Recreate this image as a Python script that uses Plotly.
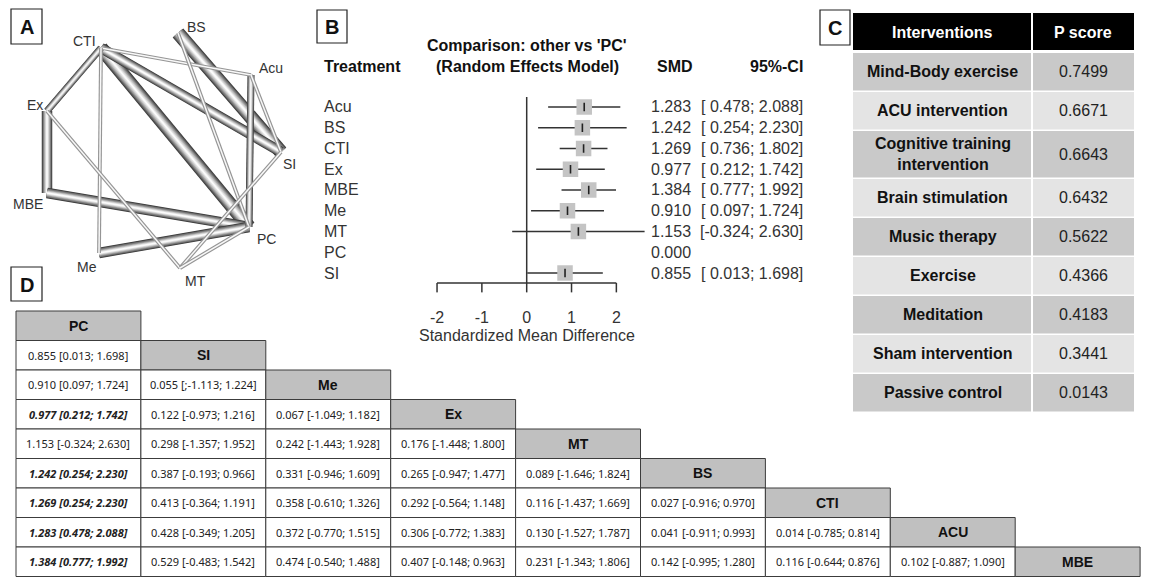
import plotly.graph_objects as go

# ======================= DATA =======================
# Panel A - network of comparisons (edge weight = number of direct studies, estimated)
net_nodes = ["BS", "CTI", "Acu", "Ex", "SI", "MBE", "PC", "Me", "MT"]
net_edge_from = ["BS", "CTI", "CTI", "Ex", "MBE", "Me", "Ex", "Acu", "CTI", "CTI", "BS", "Acu", "SI", "Ex", "MT"]
net_edge_to = ["SI", "PC", "SI", "MBE", "PC", "PC", "CTI", "PC", "Acu", "Me", "PC", "SI", "MT", "MT", "PC"]
net_edge_studies = [4, 4, 3, 3, 3, 3, 2, 2, 1, 1, 1, 1, 1, 1, 1]

# Panel B - forest plot, other vs 'PC'
forest_treat = ["Acu", "BS", "CTI", "Ex", "MBE", "Me", "MT", "PC", "SI"]
forest_smd = [1.283, 1.242, 1.269, 0.977, 1.384, 0.910, 1.153, 0.000, 0.855]
forest_low = [0.478, 0.254, 0.736, 0.212, 0.777, 0.097, -0.324, None, 0.013]
forest_high = [2.088, 2.230, 1.802, 1.742, 1.992, 1.724, 2.630, None, 1.698]
forest_ticks = [-2, -1, 0, 1, 2]

# Panel C - P scores
pscore_names = ["Mind-Body exercise", "ACU intervention", "Cognitive training<br>intervention",
                "Brain stimulation", "Music therapy", "Exercise", "Meditation",
                "Sham intervention", "Passive control"]
pscore_vals = [0.7499, 0.6671, 0.6643, 0.6432, 0.5622, 0.4366, 0.4183, 0.3441, 0.0143]

# Panel D - league table (row treatment vs column treatment)
league_treat = ["PC", "SI", "Me", "Ex", "MT", "BS", "CTI", "ACU", "MBE"]
league_cells = [
    [],
    ["0.855 [0.013; 1.698]"],
    ["0.910 [0.097; 1.724]", "0.055 [;-1.113; 1.224]"],
    ["0.977 [0.212; 1.742]", "0.122 [-0.973; 1.216]", "0.067 [-1.049; 1.182]"],
    ["1.153 [-0.324; 2.630]", "0.298 [-1.357; 1.952]", "0.242 [-1.443; 1.928]", "0.176 [-1.448; 1.800]"],
    ["1.242 [0.254; 2.230]", "0.387 [-0.193; 0.966]", "0.331 [-0.946; 1.609]", "0.265 [-0.947; 1.477]",
     "0.089 [-1.646; 1.824]"],
    ["1.269 [0.254; 2.230]", "0.413 [-0.364; 1.191]", "0.358 [-0.610; 1.326]", "0.292 [-0.564; 1.148]",
     "0.116 [-1.437; 1.669]", "0.027 [-0.916; 0.970]"],
    ["1.283 [0.478; 2.088]", "0.428 [-0.349; 1.205]", "0.372 [-0.770; 1.515]", "0.306 [-0.772; 1.383]",
     "0.130 [-1.527; 1.787]", "0.041 [-0.911; 0.993]", "0.014 [-0.785; 0.814]"],
    ["1.384 [0.777; 1.992]", "0.529 [-0.483; 1.542]", "0.474 [-0.540; 1.488]", "0.407 [-0.148; 0.963]",
     "0.231 [-1.343; 1.806]", "0.142 [-0.995; 1.280]", "0.116 [-0.644; 0.876]", "0.102 [-0.887; 1.090]"],
]
league_bold = [(3, 0), (5, 0), (6, 0), (7, 0), (8, 0)]

# ======================= LAYOUT CONSTANTS =======================
W, H = 1150, 577          # target window
OFF = 8                   # default page body margin
FW, FH = W - OFF, H - OFF  # figure size so that canvas coords == window pixels
ARIAL = "Liberation Sans, Arial, sans-serif"
NOTO = "Noto Sans, sans-serif"

node_xy = {"BS": (178, 33), "CTI": (101, 48), "Acu": (251, 75), "Ex": (47, 111), "SI": (281, 152),
           "MBE": (47, 193), "PC": (249, 227), "Me": (99, 253), "MT": (180, 268)}
label_xy = {"BS": (196, 27), "CTI": (84, 41), "Acu": (271, 68), "Ex": (35, 105), "SI": (289, 164),
            "MBE": (28, 204), "PC": (266, 239), "Me": (87, 267), "MT": (195, 281)}

fig = go.Figure()
annotations = []
shapes = []


def ann(x, y, text, size, color="#222", xanchor="center", family=ARIAL, xref="x", yref="y"):
    annotations.append(dict(x=x, y=y, xref=xref, yref=yref, text=text, showarrow=False,
                            xanchor=xanchor, yanchor="middle",
                            font=dict(family=family, size=size, color=color)))


# ---------------- Panel A: network ----------------
thick_layers = [(1.0, "#3a3a3a"), (0.88, "#5a5a5a"), (0.75, "#7c7c7c"), (0.6, "#a0a0a0"),
                (0.45, "#c4c4c4"), (0.3, "#e2e2e2"), (0.14, "#fbfbfb")]
thin_layers = [(3.8, "#959595"), (1.5, "#f8f8f8")]

order = sorted(range(len(net_edge_from)), key=lambda k: -net_edge_studies[k])
for k in order:
    a, b, n = net_edge_from[k], net_edge_to[k], net_edge_studies[k]
    (xa, ya), (xb, yb) = node_xy[a], node_xy[b]
    if n == 1:
        layers = thin_layers
    else:
        w = 3.5 * n
        layers = [(w * f, c) for f, c in thick_layers]
    for lw, col in layers:
        fig.add_trace(go.Scatter(x=[xa, xb], y=[ya, yb], mode="lines", xaxis="x", yaxis="y",
                                 line=dict(color=col, width=lw), hoverinfo="skip", showlegend=False))

for nd in net_nodes:
    lx, ly = label_xy[nd]
    ann(lx, ly, nd, 14, color="#333")

# ---------------- Panel B: forest ----------------
px_per_unit = 44.83
x0_px = 526.7
xr = [-3.0, 3.0]
row0_px, row_pitch = 107.0, 20.75
top_idx, bot_idx = -0.48, 8.95
base_idx = 8.48
x2_dom = [(x0_px + xr[0] * px_per_unit - OFF) / FW, (x0_px + xr[1] * px_per_unit - OFF) / FW]
y2_dom = [1 - (row0_px + bot_idx * row_pitch - OFF) / FH, 1 - (row0_px + top_idx * row_pitch - OFF) / FH]

rows = list(range(len(forest_treat)))

# zero line
fig.add_trace(go.Scatter(x=[0, 0], y=[top_idx, base_idx], mode="lines", xaxis="x2", yaxis="y2",
                         line=dict(color="#333", width=1.5), hoverinfo="skip"))
# axis baseline and ticks
ax_x, ax_y = [forest_ticks[0], forest_ticks[-1], None], [base_idx, base_idx, None]
for t in forest_ticks:
    ax_x += [t, t, None]
    ax_y += [base_idx, base_idx + 9.5 / row_pitch, None]
fig.add_trace(go.Scatter(x=ax_x, y=ax_y, mode="lines", xaxis="x2", yaxis="y2",
                         line=dict(color="#333", width=1.5), hoverinfo="skip"))
# CI lines
ci_x, ci_y = [], []
for i in rows:
    if forest_low[i] is not None:
        ci_x += [forest_low[i], forest_high[i], None]
        ci_y += [i, i, None]
fig.add_trace(go.Scatter(x=ci_x, y=ci_y, mode="lines", xaxis="x2", yaxis="y2",
                         line=dict(color="#333", width=1.4), hoverinfo="skip"))
# boxes
bx = [forest_smd[i] for i in rows if forest_low[i] is not None]
by = [i for i in rows if forest_low[i] is not None]
fig.add_trace(go.Scatter(x=bx, y=by, mode="markers", xaxis="x2", yaxis="y2",
                         marker=dict(symbol="square", size=15.5, color="#c4c4c4",
                                     line=dict(width=0)), hoverinfo="skip"))
fig.add_trace(go.Scatter(x=bx, y=by, mode="markers", xaxis="x2", yaxis="y2",
                         marker=dict(symbol="line-ns", size=6, line=dict(width=1.6, color="#222")),
                         hoverinfo="skip"))

for i in rows:
    ann(322, i, forest_treat[i], 16, color="#333", xanchor="left", yref="y2")
    ann(693, i, f"{forest_smd[i]:.3f}", 16, color="#333", xanchor="right", yref="y2")
    if forest_low[i] is not None:
        ann(805, i, f"[{forest_low[i]:6.3f}; {forest_high[i]:.3f}]", 16, color="#333",
            xanchor="right", yref="y2")

ann(527, 45, "<b>Comparison: other vs 'PC'</b>", 16, color="#111")
ann(527, 66, "<b>(Random Effects Model)</b>", 16, color="#111")
ann(322, 66, "<b>Treatment</b>", 16, color="#111", xanchor="left")
ann(675, 66, "<b>SMD</b>", 16, color="#111")
ann(805, 66, "<b>95%-CI</b>", 16, color="#111", xanchor="right")
ann(0, 335, "Standardized Mean Difference", 16, color="#333", xref="x2")

# ---------------- Panel C: P-score table ----------------
c_left, c_mid, c_right = 853, 1032, 1134
gap = 1.0
shapes.append(dict(type="rect", xref="x", yref="y", x0=c_left, x1=c_mid - gap, y0=13, y1=50,
                   fillcolor="#000", line=dict(width=0)))
shapes.append(dict(type="rect", xref="x", yref="y", x0=c_mid + gap, x1=c_right, y0=13, y1=50,
                   fillcolor="#000", line=dict(width=0)))
ann((c_left + c_mid) / 2, 32, "<b>Interventions</b>", 16, color="#fff")
ann((c_mid + c_right) / 2, 32, "<b>P score</b>", 16, color="#fff")
top = 53.0
for r, (nm, v) in enumerate(zip(pscore_names, pscore_vals)):
    h = 46.5 if "<br>" in nm else 37.5
    fill = "#c9c9c9" if r % 2 == 0 else "#e4e4e4"
    shapes.append(dict(type="rect", xref="x", yref="y", x0=c_left, x1=c_mid - gap, y0=top, y1=top + h,
                       fillcolor=fill, line=dict(width=0), layer="below"))
    shapes.append(dict(type="rect", xref="x", yref="y", x0=c_mid + gap, x1=c_right, y0=top, y1=top + h,
                       fillcolor=fill, line=dict(width=0), layer="below"))
    ann((c_left + c_mid) / 2, top + h / 2, f"<b>{nm}</b>", 16, color="#111")
    ann((c_mid + c_right) / 2, top + h / 2, f"{v:.4f}", 16, color="#222")
    top += h + 1.5

# ---------------- Panel D: league table ----------------
d_left, d_top = 16.0, 311.0
col_w, row_h = 124.9, 29.5
for i, tr in enumerate(league_treat):
    y0 = d_top + i * row_h
    for j in range(i + 1):
        x0 = d_left + j * col_w
        is_head = (j == i)
        shapes.append(dict(type="rect", xref="x", yref="y", x0=x0, x1=x0 + col_w, y0=y0, y1=y0 + row_h,
                           fillcolor="#c0c0c0" if is_head else "#ffffff",
                           line=dict(color="#3c3c3c", width=1), layer="below"))
        cx, cy = x0 + col_w / 2, y0 + row_h / 2
        if is_head:
            ann(cx, cy, f"<b>{tr}</b>", 14, color="#111", family=ARIAL)
        else:
            txt = league_cells[i][j]
            if (i, j) in league_bold:
                txt = f"<b><i>{txt}</i></b>"
            ann(cx, cy, txt, 11, color="#222", family=NOTO)

# ---------------- panel letters ----------------
for letter, (x0, y0, x1, y1) in {"A": (11, 9, 42, 44), "B": (317, 10, 347, 43),
                                 "C": (820, 10, 850, 45), "D": (11, 267, 42, 301)}.items():
    shapes.append(dict(type="rect", xref="x", yref="y", x0=x0, x1=x1, y0=y0, y1=y1,
                       fillcolor="#fff", line=dict(color="#222", width=1.2), layer="below"))
    ann((x0 + x1) / 2, (y0 + y1) / 2 + 0.5, f"<b>{letter}</b>", 20, color="#111")

fig.update_layout(
    width=FW, height=FH, margin=dict(l=0, r=0, t=0, b=0),
    paper_bgcolor="#fff", plot_bgcolor="rgba(0,0,0,0)", showlegend=False, hovermode=False,
    xaxis=dict(range=[OFF, W], domain=[0, 1], visible=False, fixedrange=True),
    yaxis=dict(range=[H, OFF], domain=[0, 1], visible=False, fixedrange=True),
    xaxis2=dict(range=xr, domain=x2_dom, anchor="y2", tickvals=forest_ticks,
                ticktext=[str(t) for t in forest_ticks], ticks="", showgrid=False, zeroline=False,
                showline=False, tickfont=dict(family=ARIAL, size=16, color="#333"),
                ticklabelstandoff=13, fixedrange=True),
    yaxis2=dict(range=[bot_idx, top_idx], domain=y2_dom, anchor="x2", visible=False, fixedrange=True),
    annotations=annotations, shapes=shapes,
)

fig.write_html("out.html")
